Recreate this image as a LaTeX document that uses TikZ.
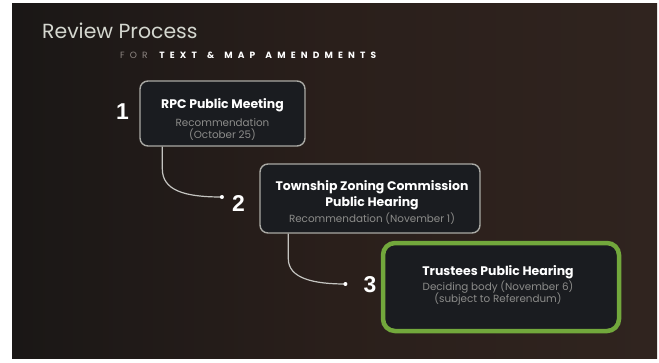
\documentclass[tikz,border=0pt]{standalone}
\usepackage{fontspec}
\setmainfont{Poppins}
\newfontfamily\numfont{Liberation Sans}
\newfontfamily\spacedfont[LetterSpace=57]{Poppins}
\usetikzlibrary{calc}

\definecolor{woodA}{HTML}{1A1716}
\definecolor{woodB}{HTML}{2A1F1B}
\definecolor{woodC}{HTML}{30241F}
\definecolor{boxfill}{HTML}{1A1C20}
\definecolor{boxline}{HTML}{A9A9A4}
\definecolor{greenline}{HTML}{72A83C}
\definecolor{subgray}{HTML}{8C8C8A}
\definecolor{titlecol}{HTML}{D4D7CF}
\definecolor{forcol}{HTML}{8E8682}
\definecolor{linkcol}{HTML}{C4C4C0}

\tikzset{
  stagebox/.style={draw=boxline, line width=1.4bp, fill=boxfill,
    rounded corners=8bp, inner sep=0pt},
  finalbox/.style={draw=greenline, line width=4.5bp, fill=boxfill,
    rounded corners=12bp, inner sep=0pt},
  headtxt/.style={anchor=base, inner sep=0pt, text=white,
    font=\fontsize{12.5}{14}\selectfont\bfseries},
  subtxt/.style={anchor=base, inner sep=0pt, text=subgray,
    font=\fontsize{10.4}{12}\selectfont},
  stepnum/.style={anchor=base, inner sep=0pt, text=white,
    font=\numfont\fontsize{23}{25}\selectfont\bfseries},
  link/.style={draw=linkcol, line width=1.2bp},
  linkdot/.style={fill=white, draw=none},
}

\begin{document}
\begin{tikzpicture}[x=1bp, y=-1bp]
  \useasboundingbox (0,0) rectangle (659,362);
  \fill[white] (0,0) rectangle (659,362);
  % dark wooden backdrop of the slide
  \shade[left color=woodA, right color=woodC, middle color=woodB]
    (12,3) rectangle (657,358);

  % heading
  \node[anchor=base west, inner sep=0pt, text=titlecol,
        font=\fontsize{20.5}{22}\selectfont] (title) at (42,38) {Review Process};
  \node[anchor=base west, inner sep=0pt,
        font=\spacedfont\fontsize{9.1}{11}\selectfont] (subtitle) at (120,58.5)
        {\textcolor{forcol}{FOR}\hspace{4bp} \textcolor{white}{\bfseries TEXT\hspace{3bp} \&\hspace{3bp} MAP\hspace{3bp} AMENDMENTS}};

  % stage boxes
  \node[stagebox, minimum width=165bp, minimum height=65bp] (box1) at (222.5,113.5) {};
  \node[stagebox, minimum width=220bp, minimum height=69bp] (box2) at (370,198.5) {};
  \node[finalbox, minimum width=236bp, minimum height=88bp] (box3) at (501,287) {};

  % box texts
  \node[headtxt] (b1a) at (222.5,108) {RPC Public Meeting};
  \node[subtxt]  (b1b) at (222.5,126.5) {Recommendation};
  \node[subtxt]  (b1c) at (222.5,138) {(October 25)};

  \node[headtxt] (b2a) at (372,190) {Township Zoning Commission};
  \node[headtxt] (b2b) at (372,206) {Public Hearing};
  \node[subtxt]  (b2c) at (372,222) {Recommendation (November 1)};

  \node[headtxt] (b3a) at (498,275) {Trustees Public Hearing};
  \node[subtxt]  (b3b) at (498,290) {Deciding body (November 6)};
  \node[subtxt]  (b3c) at (498,302) {(subject to Referendum)};

  % step numbers
  \node[stepnum] (n1) at (122.5,119.5) {1};
  \node[stepnum] (n2) at (238.5,211) {2};
  \node[stepnum] (n3) at (370,292) {3};

  % connector ends
  \coordinate (d2) at ($(n2.base west)+(-10,-14)$);
  \coordinate (d3) at ($(n3.base west)+(-18,-8)$);

  % connectors
  \draw[link] ($(box1.south west)+(23,0)$) -- ++(0,22)
      .. controls +(0,22) and ($(d2)+(-37,0)$) .. (d2);
  \draw[link] ($(box2.south west)+(29,0)$) -- ++(0,25)
      .. controls +(0,20) and ($(d3)+(-31,0)$) .. (d3);
  \fill[linkdot] (d2) circle (2bp);
  \fill[linkdot] (d3) circle (2bp);
\end{tikzpicture}
\end{document}
